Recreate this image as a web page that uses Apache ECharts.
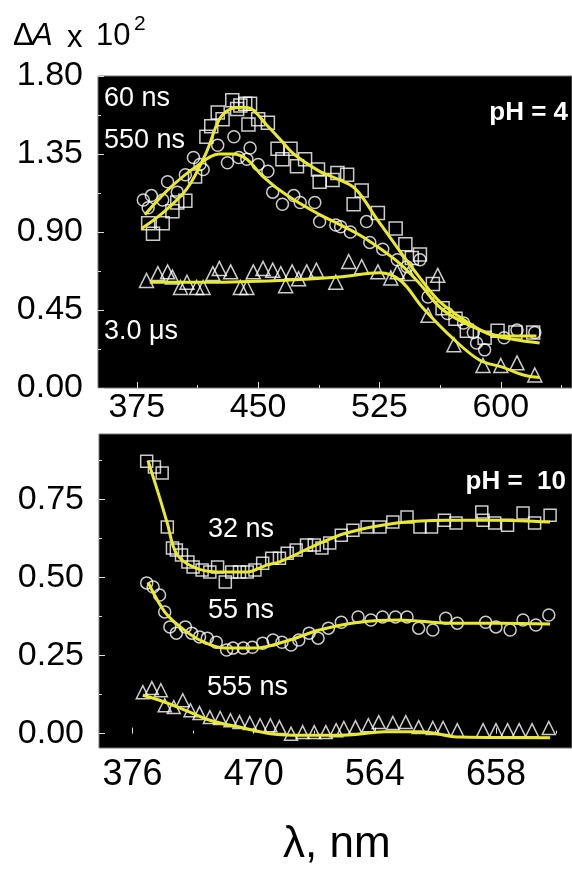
<!DOCTYPE html>
<html>
<head>
<meta charset="utf-8">
<script src="https://cdn.jsdelivr.net/npm/echarts@6/dist/echarts.min.js"></script>
<style>
  html, body { margin: 0; padding: 0; background: #fff; }
  #chart { width: 572px; height: 870px; }
</style>
</head>
<body>
<div id="chart"></div>
<script>
// ---- pH = 4 panel (top) ----
var topXTicks = [375, 450, 525, 600];
var topXMinor = [412.5, 487.5, 562.5, 637.5];
var topYTicks = [0, 0.45, 0.90, 1.35, 1.80];
var topYMinor = [0.225, 0.675, 1.125, 1.575];

// 60 ns (squares)
var wl60 = [382, 385, 391, 397, 400, 405, 411, 418, 421, 425, 428, 434, 437, 439, 442, 445, 444, 450, 456, 462, 465, 470, 474, 479, 487, 488, 496, 499, 505, 509, 514, 524, 535, 541, 545, 550, 558, 564, 572, 579, 590, 598, 609, 620];
var val60 = [0.95, 0.89, 0.95, 1.02, 1.07, 1.08, 1.22, 1.45, 1.51, 1.59, 1.55, 1.66, 1.61, 1.63, 1.64, 1.64, 1.52, 1.55, 1.53, 1.38, 1.32, 1.38, 1.28, 1.32, 1.26, 1.19, 1.20, 1.24, 1.23, 1.06, 1.14, 1.01, 0.92, 0.83, 0.75, 0.77, 0.60, 0.46, 0.40, 0.33, 0.29, 0.33, 0.32, 0.32];
var fit60Wl = [378, 391, 406, 418, 426, 433, 440, 446, 455, 464, 472, 488, 498, 510, 523, 536, 548, 562, 581, 593, 608, 624];
var fit60 = [0.92, 1.01, 1.15, 1.36, 1.55, 1.61, 1.62, 1.61, 1.52, 1.43, 1.35, 1.25, 1.21, 1.15, 0.98, 0.81, 0.66, 0.50, 0.37, 0.31, 0.28, 0.26];

// 550 ns (circles)
var wl550 = [379, 382, 384, 391, 394, 400, 405, 410, 414, 416, 425, 431, 435, 438, 443, 445, 450, 456, 459, 465, 472, 476, 485, 488, 498, 501, 507, 517, 519, 527, 536, 542, 550, 555, 567, 577, 583, 585, 590, 602, 610, 621];
var val550 = [1.085, 1.04, 1.11, 1.085, 1.19, 1.13, 1.23, 1.33, 1.29, 1.26, 1.40, 1.30, 1.45, 1.33, 1.32, 1.385, 1.29, 1.25, 1.13, 1.06, 1.11, 1.07, 1.07, 0.96, 0.94, 0.93, 0.90, 0.96, 0.84, 0.80, 0.74, 0.70, 0.74, 0.525, 0.43, 0.375, 0.32, 0.26, 0.22, 0.29, 0.335, 0.32];
var fit550Wl = [380, 395, 412, 426, 434, 443, 453, 468, 488, 499, 515, 536, 550, 563, 581, 601, 622];
var fit550 = [1.00, 1.15, 1.28, 1.35, 1.35, 1.32, 1.22, 1.11, 1.00, 0.95, 0.87, 0.73, 0.60, 0.46, 0.36, 0.30, 0.30];

// 3.0 us (triangles)
var wl3us = [381, 388, 394, 397, 402, 406, 412, 416, 422, 426, 433, 439, 443, 447, 453, 459, 464, 467, 471, 475, 480, 486, 498, 506, 514, 524, 532, 536, 543, 555, 561, 571, 589, 600, 610, 621];
var val3us = [0.62, 0.66, 0.67, 0.64, 0.58, 0.61, 0.58, 0.58, 0.66, 0.69, 0.67, 0.58, 0.58, 0.67, 0.69, 0.68, 0.66, 0.59, 0.67, 0.63, 0.67, 0.68, 0.61, 0.73, 0.70, 0.67, 0.635, 0.67, 0.66, 0.42, 0.65, 0.25, 0.13, 0.13, 0.145, 0.075];
var fit3usWl = [383, 420, 463, 500, 525, 538, 552, 571, 587, 601, 614, 624];
var fit3us = [0.61, 0.61, 0.62, 0.64, 0.665, 0.62, 0.46, 0.28, 0.16, 0.12, 0.075, 0.06];

// ---- pH = 10 panel (bottom) ----
var botXTicks = [376, 470, 564, 658];
var botXMinor = [423, 517, 611, 705];
var botYTicks = [0, 0.25, 0.50, 0.75];
var botYMinor = [0.125, 0.375, 0.625, 0.875];

// 32 ns (squares)
var wl32 = [387, 393, 399, 403, 407, 410, 414, 419, 423, 430, 436, 442, 448, 453, 459, 465, 471, 477, 484, 490, 496, 503, 511, 517, 523, 529, 538, 547, 558, 568, 578, 589, 599, 608, 618, 627, 647, 648, 657, 667, 679, 688, 700];
var val32 = [0.873, 0.854, 0.835, 0.662, 0.595, 0.588, 0.572, 0.55, 0.534, 0.524, 0.518, 0.534, 0.486, 0.518, 0.518, 0.518, 0.524, 0.546, 0.562, 0.562, 0.578, 0.588, 0.604, 0.604, 0.595, 0.611, 0.636, 0.652, 0.662, 0.662, 0.678, 0.694, 0.662, 0.662, 0.684, 0.675, 0.71, 0.684, 0.675, 0.668, 0.707, 0.675, 0.70];
var fit32Wl = [388, 397, 403, 410, 423, 441, 465, 480, 490, 516, 542, 581, 620, 658, 700];
var fit32 = [0.875, 0.757, 0.674, 0.578, 0.534, 0.518, 0.518, 0.54, 0.55, 0.60, 0.643, 0.675, 0.684, 0.684, 0.678];

// 55 ns (circles)
var wl55 = [387, 392, 397, 401, 405, 410, 417, 422, 428, 434, 441, 449, 454, 462, 469, 477, 485, 492, 499, 505, 513, 520, 528, 538, 551, 561, 570, 580, 589, 598, 609, 619, 628, 650, 658, 669, 679, 689, 699];
var val55 = [0.483, 0.47, 0.444, 0.39, 0.342, 0.322, 0.342, 0.322, 0.31, 0.306, 0.293, 0.268, 0.274, 0.274, 0.277, 0.29, 0.30, 0.293, 0.284, 0.30, 0.322, 0.306, 0.338, 0.357, 0.374, 0.364, 0.374, 0.374, 0.374, 0.338, 0.332, 0.37, 0.354, 0.357, 0.342, 0.332, 0.364, 0.348, 0.38];
var fit55Wl = [388, 401, 413, 428, 448, 471, 498, 521, 552, 583, 622, 661, 700];
var fit55 = [0.485, 0.39, 0.342, 0.30, 0.274, 0.274, 0.30, 0.332, 0.357, 0.364, 0.354, 0.354, 0.351];

// 555 ns (triangles)
var wl555 = [384, 391, 398, 401, 408, 415, 421, 428, 436, 444, 452, 459, 467, 475, 483, 490, 499, 508, 517, 526, 534, 540, 549, 559, 567, 578, 588, 598, 609, 617, 628, 648, 658, 667, 676, 686, 699];
var val555 = [0.133, 0.146, 0.139, 0.091, 0.085, 0.107, 0.075, 0.066, 0.053, 0.05, 0.043, 0.037, 0.034, 0.027, 0.027, 0.021, 0.0, 0.005, 0.005, 0.005, 0.011, 0.018, 0.021, 0.027, 0.037, 0.034, 0.037, 0.021, 0.018, 0.018, 0.011, 0.011, 0.011, 0.011, 0.011, 0.011, 0.018];
var fit555Wl = [384, 397, 413, 436, 459, 483, 510, 540, 572, 600, 630, 700];
var fit555 = [0.123, 0.107, 0.082, 0.043, 0.021, 0.0, -0.005, -0.005, 0.006, 0.006, -0.011, -0.013];

var FONT = 'Liberation Sans, Arial, sans-serif';
var YELLOW = '#e9e92e';

function zip(xs, ys) {
  return xs.map(function (x, i) { return [x, ys[i]]; });
}

function markers(name, symbol, size, xs, ys, idx) {
  return {
    name: name, type: 'scatter', symbol: symbol, symbolSize: size,
    xAxisIndex: idx, yAxisIndex: idx,
    data: zip(xs, ys),
    itemStyle: { color: 'transparent', borderColor: '#fff', borderWidth: 1.5 },
    z: 2
  };
}

function fitLine(name, xs, ys, idx) {
  return {
    name: name, type: 'line', smooth: 0.35, showSymbol: false,
    xAxisIndex: idx, yAxisIndex: idx,
    data: zip(xs, ys),
    lineStyle: { color: YELLOW, width: 3 },
    z: 3
  };
}

function xAxisMajor(grid, min, max, ticks, size, margin) {
  return {
    gridIndex: grid, type: 'value', min: min, max: max, position: 'bottom',
    axisLine: { show: false }, splitLine: { show: false },
    axisTick: { inside: true, length: 6, customValues: ticks, lineStyle: { color: '#ddd', width: 1 } },
    axisLabel: { customValues: ticks, fontSize: size, color: '#000', fontFamily: FONT, margin: margin }
  };
}
function xAxisMinor(grid, min, max, ticks) {
  return {
    gridIndex: grid, type: 'value', min: min, max: max, position: 'bottom', offset: 0,
    axisLine: { show: false }, splitLine: { show: false },
    axisTick: { inside: true, length: 3, customValues: ticks, lineStyle: { color: '#ddd', width: 1 } },
    axisLabel: { show: false }
  };
}
function yAxisMajor(grid, min, max, ticks) {
  return {
    gridIndex: grid, type: 'value', min: min, max: max, position: 'left',
    axisLine: { show: false }, splitLine: { show: false },
    axisTick: { inside: true, length: 6, customValues: ticks, lineStyle: { color: '#ddd', width: 1 } },
    axisLabel: {
      customValues: ticks, fontSize: 34, color: '#000', fontFamily: FONT, margin: 15,
      formatter: function (v) { return v.toFixed(2); }
    }
  };
}
function yAxisMinor(grid, min, max, ticks) {
  return {
    gridIndex: grid, type: 'value', min: min, max: max, position: 'left', offset: 0,
    axisLine: { show: false }, splitLine: { show: false },
    axisTick: { inside: true, length: 3, customValues: ticks, lineStyle: { color: '#ddd', width: 1 } },
    axisLabel: { show: false }
  };
}

function label(text, x, y, opts) {
  opts = opts || {};
  return {
    type: 'text', left: x, top: y, z: 10,
    style: {
      text: text, fill: opts.fill || '#fff',
      font: (opts.weight || 'normal') + ' ' + (opts.size || 27) + 'px ' + FONT,
      textAlign: opts.align || 'left', textVerticalAlign: 'middle'
    }
  };
}
function plain(text, x, y, opts) {
  opts = opts || {};
  return {
    type: 'text', x: x, y: y, z: 10,
    style: {
      text: text, fill: opts.fill || '#fff',
      font: (opts.style || 'normal') + ' ' + (opts.weight || 'normal') + ' ' + (opts.size || 27) + 'px ' + FONT,
      align: opts.align || 'left', verticalAlign: 'middle'
    }
  };
}

var myChart = echarts.init(document.getElementById('chart'));
var option = {
  animation: false,
  backgroundColor: '#fff',
  grid: [
    { left: 98, top: 76, width: 474, height: 312, show: true, backgroundColor: '#000', borderColor: '#777', borderWidth: 1 },
    { left: 99, top: 434, width: 473, height: 314, show: true, backgroundColor: '#000', borderColor: '#777', borderWidth: 1 }
  ],
  xAxis: [
    xAxisMajor(0, 351, 644, topXTicks, 34, 3),
    xAxisMinor(0, 351, 644, topXMinor),
    xAxisMajor(1, 350, 717, botXTicks, 36, 9),
    xAxisMinor(1, 350, 717, botXMinor)
  ],
  yAxis: [
    yAxisMajor(0, 0, 1.8, topYTicks),
    yAxisMinor(0, 0, 1.8, topYMinor),
    yAxisMajor(1, -0.046, 0.96, botYTicks),
    yAxisMinor(1, -0.046, 0.96, botYMinor)
  ],
  series: [
    markers('60 ns', 'rect', 13, wl60, val60, 0),
    markers('550 ns', 'circle', 12, wl550, val550, 0),
    markers('3.0 µs', 'triangle', 14, wl3us, val3us, 0),
    fitLine('60 ns fit', fit60Wl, fit60, 0),
    fitLine('550 ns fit', fit550Wl, fit550, 0),
    fitLine('3.0 µs fit', fit3usWl, fit3us, 0),
    markers('32 ns', 'rect', 12, wl32, val32, 2),
    markers('55 ns', 'circle', 12, wl55, val55, 2),
    markers('555 ns', 'triangle', 13, wl555, val555, 2),
    fitLine('32 ns fit', fit32Wl, fit32, 2),
    fitLine('55 ns fit', fit55Wl, fit55, 2),
    fitLine('555 ns fit', fit555Wl, fit555, 2)
  ],
  graphic: [
    // axis titles
    plain('\u0394', 13, 36, { fill: '#000', size: 31 }),
    plain('A', 32, 36, { fill: '#000', size: 31, style: 'italic' }),
    plain('x', 67, 38, { fill: '#000', size: 31 }),
    plain('10', 96, 36, { fill: '#000', size: 31 }),
    plain('2', 134, 24, { fill: '#000', size: 21 }),
    plain('\u03bb, nm', 283, 845, { fill: '#000', size: 44 }),
    // annotations
    plain('60 ns', 104, 99),
    plain('550 ns', 104, 141),
    plain('3.0 \u03bcs', 104, 332),
    plain('pH = 4', 568, 113, { weight: 'bold', size: 26, align: 'right' }),
    plain('32 ns', 208, 530),
    plain('55 ns', 208, 611),
    plain('555 ns', 207, 688),
    plain('pH =  10', 566, 482, { weight: 'bold', size: 26, align: 'right' })
  ]
};
myChart.setOption(option);
</script>
</body>
</html>
